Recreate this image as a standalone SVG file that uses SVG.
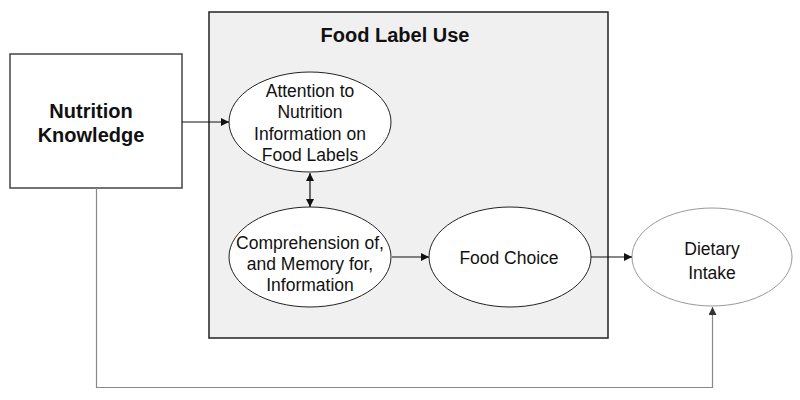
<svg xmlns="http://www.w3.org/2000/svg" width="800" height="400" viewBox="0 0 800 400">
<style>
  text { font-family: "Liberation Sans", Arial, sans-serif; fill: #111; text-anchor: middle; }
  .b { font-weight: bold; font-size: 20px; }
  .n { font-size: 17.5px; }
  .ell { fill: #fff; stroke: #222; stroke-width: 1; }
  .conn { fill: none; stroke: #111; stroke-width: 1.2; }
</style>
<defs>
  <marker id="ah" viewBox="0 0 10 10" refX="10" refY="5" markerWidth="8" markerHeight="8" markerUnits="userSpaceOnUse" orient="auto-start-reverse">
    <path d="M0,0 L10,5 L0,10 z" fill="#111"/>
  </marker>
  <marker id="ahg" viewBox="0 0 10 10" refX="10" refY="5" markerWidth="8" markerHeight="8" markerUnits="userSpaceOnUse" orient="auto">
    <path d="M0,0 L10,5 L0,10 z" fill="#333"/>
  </marker>
</defs>
<rect width="800" height="400" fill="#fff"/>
<g id="food-label-use">
  <rect x="209" y="12" width="399" height="326" fill="#f0f0f0" stroke="#222" stroke-width="1.5"/>
  <text class="b" x="395" y="42">Food Label Use</text>
</g>
<g id="nutrition-knowledge">
  <rect x="10" y="54" width="172" height="134" fill="#fff" stroke="#444" stroke-width="1.5"/>
  <text class="b" x="91" y="118">Nutrition</text>
  <text class="b" x="91" y="142">Knowledge</text>
</g>
<g id="attention">
  <ellipse class="ell" cx="310" cy="122" rx="81" ry="50"/>
  <text class="n" x="310" y="97">Attention to</text>
  <text class="n" x="310" y="118">Nutrition</text>
  <text class="n" x="310" y="140">Information on</text>
  <text class="n" x="310" y="161">Food Labels</text>
</g>
<g id="comprehension">
  <ellipse class="ell" cx="310" cy="257" rx="81" ry="50"/>
  <text class="n" x="310" y="249">Comprehension of,</text>
  <text class="n" x="310" y="270">and Memory for,</text>
  <text class="n" x="310" y="291">Information</text>
</g>
<g id="food-choice">
  <ellipse class="ell" cx="510" cy="257" rx="81" ry="50"/>
  <text class="n" x="509" y="264">Food Choice</text>
</g>
<g id="dietary-intake">
  <ellipse cx="712" cy="257" rx="80" ry="49" fill="#fff" stroke="#999" stroke-width="1"/>
  <text class="n" x="712" y="255">Dietary</text>
  <text class="n" x="712" y="279">Intake</text>
</g>
<g id="connectors">
  <line class="conn" x1="182" y1="122" x2="229" y2="122" marker-end="url(#ah)"/>
  <line class="conn" x1="310" y1="173" x2="310" y2="207" marker-start="url(#ah)" marker-end="url(#ah)"/>
  <line class="conn" x1="392" y1="257" x2="429" y2="257" marker-end="url(#ah)"/>
  <line class="conn" x1="591" y1="257" x2="632" y2="257" marker-end="url(#ah)"/>
  <polyline points="96.5,188 96.5,387.5 712.5,387.5 712.5,307" fill="none" stroke="#888" stroke-width="1.2" marker-end="url(#ahg)"/>
</g>
</svg>
